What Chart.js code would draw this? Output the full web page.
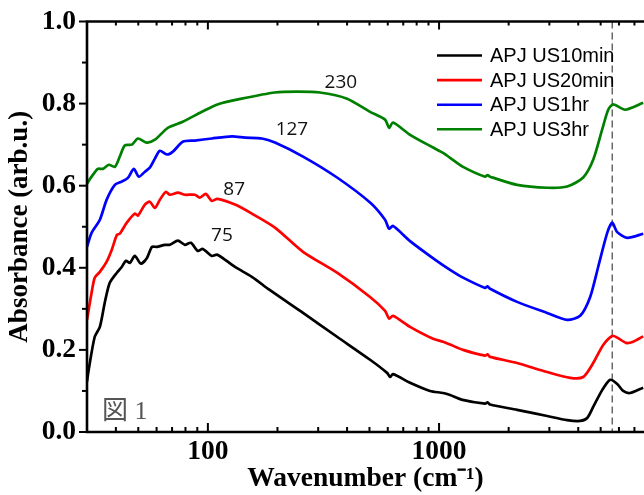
<!DOCTYPE html>
<html>
<head>
<meta charset="utf-8">
<script src="https://cdn.jsdelivr.net/npm/chart.js@4.4.1/dist/chart.umd.min.js"></script>
<style>
    html, body { margin: 0; padding: 0; background: #fff; }
    #wrap { width: 644px; height: 495px; }
</style>
</head>
<body>
<div id="wrap"><canvas id="chartAbs" width="644" height="495"></canvas></div>
<script>
var serieNombres = ['APJ US10min', 'APJ US20min', 'APJ US1hr', 'APJ US3hr'];
var serieColores = ['#000000', '#ff0000', '#0000ff', '#008000'];

// wavenumber (cm-1) / absorbance
var us10minX = [30, 30.5, 32.4, 34.1, 35.8, 37.6, 40.4, 42.4, 44.2, 46, 48.3, 51.3, 54.5, 57.3, 60.1, 65.2, 68.5, 74.2, 79.5, 84.4, 90.5, 95.1, 104, 110, 131, 155, 185, 258, 362, 503, 596, 614, 632, 749, 914, 1041, 1116, 1250, 1582, 1620, 1663, 2176, 2935, 3582, 4077, 4373, 4642, 5077, 5500, 5898, 6260, 6700, 7640];
var us10minY = [0.123, 0.151, 0.232, 0.256, 0.315, 0.363, 0.388, 0.402, 0.417, 0.412, 0.429, 0.410, 0.424, 0.451, 0.451, 0.456, 0.456, 0.466, 0.456, 0.461, 0.441, 0.446, 0.429, 0.432, 0.402, 0.378, 0.346, 0.290, 0.232, 0.176, 0.144, 0.134, 0.141, 0.120, 0.100, 0.095, 0.090, 0.079, 0.069, 0.072, 0.067, 0.054, 0.039, 0.029, 0.027, 0.034, 0.061, 0.102, 0.127, 0.117, 0.100, 0.095, 0.108];

var us20minX = [30, 31.4, 32.4, 34.1, 36.5, 38.4, 40.4, 41.6, 44.6, 48.3, 49.8, 53.4, 56.1, 59, 62, 65.8, 68.5, 74.2, 79.5, 87.8, 92.3, 98, 104, 110, 131, 155, 195, 258, 362, 503, 584, 608, 632, 749, 942, 1041, 1116, 1270, 1582, 1620, 1663, 2176, 2935, 3691, 4202, 4642, 5129, 5611, 5898, 6450, 6917, 7640];
var us20minY = [0.273, 0.339, 0.376, 0.390, 0.415, 0.444, 0.480, 0.483, 0.510, 0.532, 0.527, 0.554, 0.561, 0.546, 0.566, 0.585, 0.578, 0.583, 0.578, 0.578, 0.571, 0.580, 0.563, 0.568, 0.554, 0.532, 0.498, 0.439, 0.388, 0.329, 0.295, 0.276, 0.283, 0.256, 0.227, 0.220, 0.213, 0.200, 0.186, 0.189, 0.183, 0.168, 0.146, 0.132, 0.134, 0.168, 0.212, 0.234, 0.230, 0.217, 0.220, 0.233];

var us1hrX = [30, 31.4, 34.1, 36.5, 39.6, 42.4, 45.1, 47.8, 50.3, 53.4, 56.1, 59, 62, 66.5, 70.6, 77.9, 87.8, 104, 127, 145, 171, 195, 258, 362, 503, 584, 608, 632, 749, 960, 1116, 1270, 1582, 1620, 1663, 2176, 2935, 3582, 4077, 4505, 4878, 5338, 5611, 5898, 6515, 7640];
var us1hrY = [0.451, 0.485, 0.517, 0.566, 0.602, 0.610, 0.619, 0.641, 0.622, 0.634, 0.644, 0.666, 0.685, 0.676, 0.683, 0.707, 0.710, 0.715, 0.720, 0.717, 0.715, 0.705, 0.671, 0.620, 0.559, 0.517, 0.495, 0.502, 0.465, 0.420, 0.395, 0.376, 0.351, 0.355, 0.349, 0.317, 0.290, 0.273, 0.283, 0.329, 0.402, 0.485, 0.510, 0.487, 0.473, 0.483];

var us3hrX = [30, 31.4, 33.4, 35.1, 37.3, 39.6, 41.6, 43.7, 46.9, 49.8, 54.5, 59, 67.1, 77.9, 94.2, 110, 140, 195, 243, 305, 400, 503, 584, 608, 632, 749, 942, 1041, 1116, 1270, 1582, 1620, 1663, 2176, 2935, 3582, 4202, 4642, 5077, 5392, 5667, 6388, 7640];
var us3hrY = [0.605, 0.622, 0.641, 0.641, 0.651, 0.646, 0.671, 0.698, 0.700, 0.715, 0.705, 0.712, 0.741, 0.756, 0.780, 0.798, 0.812, 0.827, 0.829, 0.827, 0.812, 0.780, 0.761, 0.741, 0.754, 0.724, 0.693, 0.680, 0.668, 0.646, 0.622, 0.626, 0.622, 0.602, 0.595, 0.598, 0.620, 0.663, 0.737, 0.785, 0.798, 0.785, 0.802];

// peak notes, anchored in data units
var picoEtiquetas = ['75', '87', '127', '230'];
var picoX = [115, 130, 231, 376];
var picoY = [0.478, 0.590, 0.737, 0.851];

var lineaDiscontinuaX = 5610;
var xEtiquetas = [100, 1000];
var xMin = 30, xMax = 7700;

(function () {
    var serif = '"Liberation Serif", "Times New Roman", serif';

    function puntos(xs, ys) {
        return xs.map(function (x, i) { return { x: x, y: ys[i] }; });
    }

    var series = [
        puntos(us10minX, us10minY),
        puntos(us20minX, us20minY),
        puntos(us1hrX, us1hrY),
        puntos(us3hrX, us3hrY)
    ];

    var datasets = series.map(function (d, i) {
        return {
            label: serieNombres[i],
            data: d,
            borderColor: serieColores[i],
            borderWidth: 2.7,
            pointRadius: 0,
            tension: 0.25,
            fill: false
        };
    });

    function valoresLog(min, max) {
        var out = [];
        for (var d = 10; d <= 10000; d *= 10) {
            for (var m = 1; m < 10; m++) {
                var v = m * d;
                if (v > min && v < max) out.push({ v: v, mayor: m === 1 });
            }
        }
        return out;
    }

    var marcoPlugin = {
        id: 'marco',
        beforeDatasetsDraw: function (chart) {
            var ctx = chart.ctx, a = chart.chartArea;
            var px = chart.scales.x.getPixelForValue(lineaDiscontinuaX);
            ctx.save();
            ctx.strokeStyle = '#444';
            ctx.lineWidth = 1.2;
            ctx.setLineDash([7, 4]);
            ctx.beginPath();
            ctx.moveTo(px, a.top);
            ctx.lineTo(px, a.bottom);
            ctx.stroke();
            ctx.restore();
        },
        afterDraw: function (chart) {
            var ctx = chart.ctx, a = chart.chartArea;
            var sx = chart.scales.x, sy = chart.scales.y;
            ctx.save();
            ctx.strokeStyle = '#000';
            ctx.lineWidth = 2.6;
            ctx.lineCap = 'butt';

            // axis lines: left, bottom, top
            ctx.beginPath();
            ctx.moveTo(a.left, a.top - 1.3);
            ctx.lineTo(a.left, a.bottom + 1.3);
            ctx.moveTo(a.left - 1.3, a.bottom);
            ctx.lineTo(a.right, a.bottom);
            ctx.moveTo(a.left - 1.3, a.top);
            ctx.lineTo(a.right, a.top);
            ctx.stroke();

            // x ticks, inward on bottom and top
            ctx.lineWidth = 2;
            valoresLog(xMin, xMax).forEach(function (t) {
                var px = sx.getPixelForValue(t.v);
                var lb = t.mayor ? 9 : 5;
                var lt = t.mayor ? 8 : 4;
                ctx.beginPath();
                ctx.moveTo(px, a.bottom);
                ctx.lineTo(px, a.bottom - lb);
                ctx.moveTo(px, a.top);
                ctx.lineTo(px, a.top + lt);
                ctx.stroke();
            });

            // y ticks, outward
            for (var i = 0; i <= 10; i++) {
                var py = sy.getPixelForValue(i / 10);
                var l = i % 2 === 0 ? 8 : 5;
                ctx.beginPath();
                ctx.moveTo(a.left - l, py);
                ctx.lineTo(a.left, py);
                ctx.stroke();
            }

            // legend
            var lx = a.right - 207, ly = a.top + 34, paso = 24.6;
            chart.data.datasets.forEach(function (ds, k) {
                var y = ly + k * paso;
                ctx.strokeStyle = ds.borderColor;
                ctx.lineWidth = 2.6;
                ctx.beginPath();
                ctx.moveTo(lx, y);
                ctx.lineTo(lx + 45, y);
                ctx.stroke();
                ctx.fillStyle = '#000';
                ctx.font = '20px "Liberation Sans", Arial, sans-serif';
                ctx.textAlign = 'left';
                ctx.textBaseline = 'middle';
                ctx.fillText(ds.label, lx + 53, y + 1);
            });

            // peak labels
            ctx.fillStyle = '#111';
            ctx.font = '19px "Open Sans", sans-serif';
            ctx.textAlign = 'center';
            ctx.textBaseline = 'middle';
            picoEtiquetas.forEach(function (t, k) {
                ctx.fillText(t, sx.getPixelForValue(picoX[k]), sy.getPixelForValue(picoY[k]));
            });

            // figure tag
            ctx.fillStyle = '#555';
            ctx.font = '26px "Liberation Serif", "Noto Sans CJK JP", serif';
            ctx.textAlign = 'left';
            ctx.textBaseline = 'alphabetic';
            ctx.fillText('図 1', a.left + 15, a.bottom - 13);
            ctx.restore();
        }
    };

    var ctx = document.getElementById('chartAbs');
    new Chart(ctx, {
        type: 'line',
        data: { datasets: datasets },
        options: {
            responsive: false,
            animation: false,
            devicePixelRatio: 1,
            layout: { padding: { top: 21.5, right: 0, bottom: 0, left: 0 } },
            plugins: {
                legend: { display: false },
                tooltip: { enabled: false }
            },
            scales: {
                x: {
                    type: 'logarithmic',
                    min: xMin,
                    max: xMax,
                    afterFit: function (s) {
                        s.height = 63;
                        s.paddingLeft = 0;
                        s.paddingRight = 0;
                    },
                    grid: { display: false, drawTicks: false },
                    border: { display: false },
                    ticks: {
                        autoSkip: false,
                        maxRotation: 0,
                        padding: 3,
                        color: '#000',
                        font: { family: serif, size: 27.5, weight: 'bold' },
                        callback: function (v) {
                            return xEtiquetas.indexOf(v) >= 0 ? String(v) : '';
                        }
                    },
                    title: {
                        display: true,
                        text: 'Wavenumber (cm\u207B\u00B9)',
                        color: '#000',
                        font: { family: serif, size: 27.5, weight: 'bold' },
                        padding: { top: 0, bottom: 0 }
                    }
                },
                y: {
                    min: 0,
                    max: 1,
                    afterFit: function (s) {
                        s.width = 87;
                        s.paddingTop = 0;
                        s.paddingBottom = 0;
                    },
                    grid: { display: false, drawTicks: false },
                    border: { display: false },
                    ticks: {
                        stepSize: 0.2,
                        padding: 11,
                        color: '#000',
                        font: { family: serif, size: 27.5, weight: 'bold' },
                        callback: function (v) { return Number(v).toFixed(1); }
                    },
                    title: {
                        display: true,
                        text: 'Absorbance (arb.u.)',
                        color: '#000',
                        font: { family: serif, size: 27, weight: 'bold' },
                        padding: { top: 4, bottom: 0 }
                    }
                }
            }
        },
        plugins: [marcoPlugin]
    });
})();
</script>
</body>
</html>
